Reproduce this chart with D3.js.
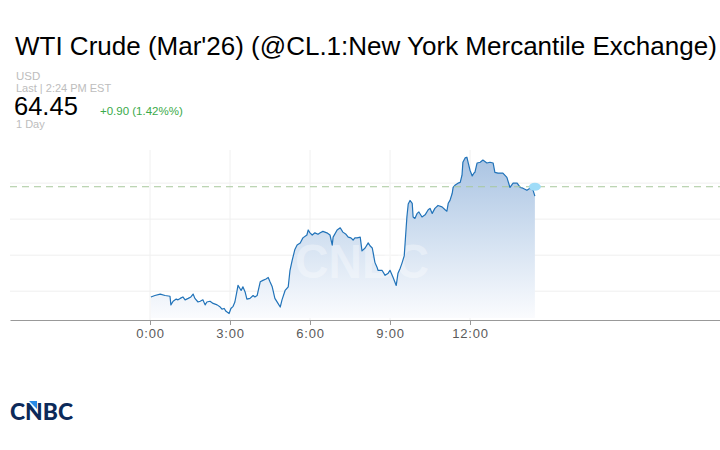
<!DOCTYPE html>
<html><head><meta charset="utf-8">
<script src="https://cdn.jsdelivr.net/npm/d3@7"></script>
<style>body{margin:0;background:#fff} svg{display:block;font-family:"Liberation Sans",Arial,Helvetica,sans-serif}</style>
</head><body><svg id="c" width="720" height="450"></svg>
<script>
const title = "WTI Crude (Mar'26) (@CL.1:New York Mercantile Exchange)";
const currency = "USD";
const lastLabel = "Last | 2:24 PM EST";
const lastPrice = 64.45;
const changeLabel = "+0.90 (1.42%%)";
const periodLabel = "1 Day";
const tickMinutes = [0, 180, 360, 540, 720];
const tickLabels = ["0:00", "3:00", "6:00", "9:00", "12:00"];
const gridPrices = [64.5, 64.0, 63.5, 63.0];
// minutes since 0:00 (EST)
const minutes = [2,11,23,34,45,47,52,59,63,68,74,79,86,92,97,101,108,113,119,124,128,135,142,151,158,162,167,171,178,182,187,191,196,198,203,205,209,214,218,225,232,236,241,248,254,261,266,270,275,281,288,293,297,304,311,315,320,326,331,338,344,353,356,360,365,371,378,383,389,398,405,410,412,421,428,434,441,446,452,457,461,466,473,477,484,491,495,500,502,506,511,513,522,529,536,540,547,554,558,563,567,572,574,578,581,585,590,592,596,601,605,612,619,626,630,635,641,648,657,664,668,671,675,680,682,686,693,698,702,704,709,713,716,720,725,729,731,736,743,749,758,765,772,776,783,794,803,810,817,826,833,839,848,855,862,866];
const prices = [62.92,62.94,62.96,62.94,62.93,62.81,62.86,62.89,62.88,62.90,62.92,62.88,62.90,62.92,62.96,62.90,62.85,62.86,62.88,62.81,62.85,62.86,62.83,62.81,62.78,62.75,62.76,62.72,62.69,62.76,62.79,62.85,63.01,63.08,63.03,63.01,63.06,62.99,62.89,62.90,62.94,62.92,62.94,63.13,63.15,63.17,63.19,63.13,63.06,62.90,62.83,62.78,62.88,63.01,63.06,63.29,63.43,63.58,63.64,63.67,63.74,63.78,63.85,63.81,63.78,63.81,63.79,63.81,63.83,63.81,63.78,63.64,63.75,63.85,63.88,63.82,63.79,63.75,63.74,63.71,63.74,63.74,63.75,63.56,63.60,63.67,63.63,63.60,63.54,63.40,63.33,63.29,63.29,63.22,63.25,63.29,63.19,63.08,63.25,63.32,63.39,63.49,63.67,64.03,64.21,64.26,64.22,64.03,64.01,64.08,64.10,64.03,64.06,64.13,64.15,64.08,64.15,64.19,64.17,64.13,64.11,64.22,64.26,64.36,64.44,64.47,64.50,64.51,64.61,64.79,64.85,64.86,64.78,64.68,64.60,64.64,64.65,64.78,64.79,64.82,64.78,64.79,64.78,64.65,64.64,64.64,64.58,64.44,64.50,64.50,64.44,64.43,64.40,64.43,64.40,64.32];

const data = minutes.map((m, i) => ({ m, p: prices[i] }));
const svg = d3.select("#c");

const x = d3.scaleLinear().domain([-315, 1282.5]).range([10, 720]);
const y = d3.scaleLinear().domain([62.6, 64.96]).range([320, 150]);

// header
const t = svg.append("text").attr("x", 15).attr("y", 55).attr("font-size", 24).attr("fill", "#000").text(title);
const w = t.node().getComputedTextLength();
t.attr("font-size", 24 * 702 / w);
svg.append("text").attr("x", 16).attr("y", 80).attr("font-size", 11.5).attr("fill", "#bdbdbd").text(currency);
svg.append("text").attr("x", 16).attr("y", 92).attr("font-size", 11).attr("fill", "#bdbdbd").text(lastLabel);
svg.append("text").attr("x", 14).attr("y", 115).attr("font-size", 25.5).attr("fill", "#000").text(lastPrice.toFixed(2));
svg.append("text").attr("x", 100).attr("y", 115).attr("font-size", 11.5).attr("fill", "#3aaa4a").text(changeLabel);
svg.append("text").attr("x", 16).attr("y", 128).attr("font-size", 11).attr("fill", "#bdbdbd").text(periodLabel);

// grid
svg.append("g").selectAll("line").data(gridPrices).join("line")
  .attr("x1", 10).attr("x2", 720).attr("y1", d => y(d)).attr("y2", d => y(d))
  .attr("stroke", "#efefef").attr("stroke-width", 1);
svg.append("g").selectAll("line").data(tickMinutes).join("line")
  .attr("x1", d => x(d)).attr("x2", d => x(d)).attr("y1", 150).attr("y2", 320)
  .attr("stroke", "#f0f0f0").attr("stroke-width", 1);

// gradient
const defs = svg.append("defs");
const g = defs.append("linearGradient").attr("id", "fillg").attr("gradientUnits", "userSpaceOnUse")
  .attr("x1", 0).attr("x2", 0).attr("y1", 155).attr("y2", 320);
g.append("stop").attr("offset", 0).attr("stop-color", "#a9c3e2");
g.append("stop").attr("offset", 0.55).attr("stop-color", "#d6e3f2");
g.append("stop").attr("offset", 1).attr("stop-color", "#fbfcfe");

const area = d3.area().x(d => x(d.m)).y0(318).y1(d => y(d.p));
svg.append("path").datum(data).attr("d", area).attr("fill", "url(#fillg)");

// watermark
svg.append("text").attr("x", 362).attr("y", 278).attr("text-anchor", "middle")
  .attr("font-size", 48).attr("font-weight", "bold").attr("fill", "#ffffff").attr("fill-opacity", 0.35)
  .attr("textLength", 134).attr("lengthAdjust", "spacingAndGlyphs").text("CNBC");

const line = d3.line().x(d => x(d.m)).y(d => y(d.p));
svg.append("path").datum(data).attr("d", line).attr("fill", "none")
  .attr("stroke", "#2173b9").attr("stroke-width", 1.2).attr("stroke-linejoin", "round");

// last price dashed line + marker
svg.append("line").attr("x1", 10).attr("x2", 720).attr("y1", y(lastPrice)).attr("y2", y(lastPrice))
  .attr("stroke", "#a8c99c").attr("stroke-width", 1).attr("stroke-dasharray", "7,5");
svg.append("ellipse").attr("cx", x(minutes[minutes.length - 1])).attr("cy", y(lastPrice))
  .attr("rx", 6).attr("ry", 4).attr("fill", "#9fdcf8");

// axis
const ax = svg.append("g").attr("transform", "translate(0,320)")
  .call(d3.axisBottom(x).tickValues(tickMinutes).tickFormat((d, i) => tickLabels[i]).tickSize(5).tickSizeOuter(0).tickPadding(4));
ax.select(".domain").attr("stroke", "#999");
ax.selectAll(".tick line").attr("stroke", "#999");
ax.selectAll(".tick text").attr("font-size", 13).attr("fill", "#5a5a5a").attr("letter-spacing", "0.8px")
  .attr("font-family", "'Liberation Sans', Arial, sans-serif");

// logo
const logo = svg.append("g");
logo.append("text").attr("x", 10).attr("y", 420).attr("font-family", "Lato, 'Open Sans', sans-serif")
  .attr("font-weight", 900).attr("font-size", 23).attr("fill", "#0c2a5a")
  .attr("textLength", 63).attr("lengthAdjust", "spacingAndGlyphs").text("CNBC");
logo.append("path").attr("d", "M29,401 L37,401 L37,409 Z").attr("fill", "#2a8be6");
</script></body></html>
